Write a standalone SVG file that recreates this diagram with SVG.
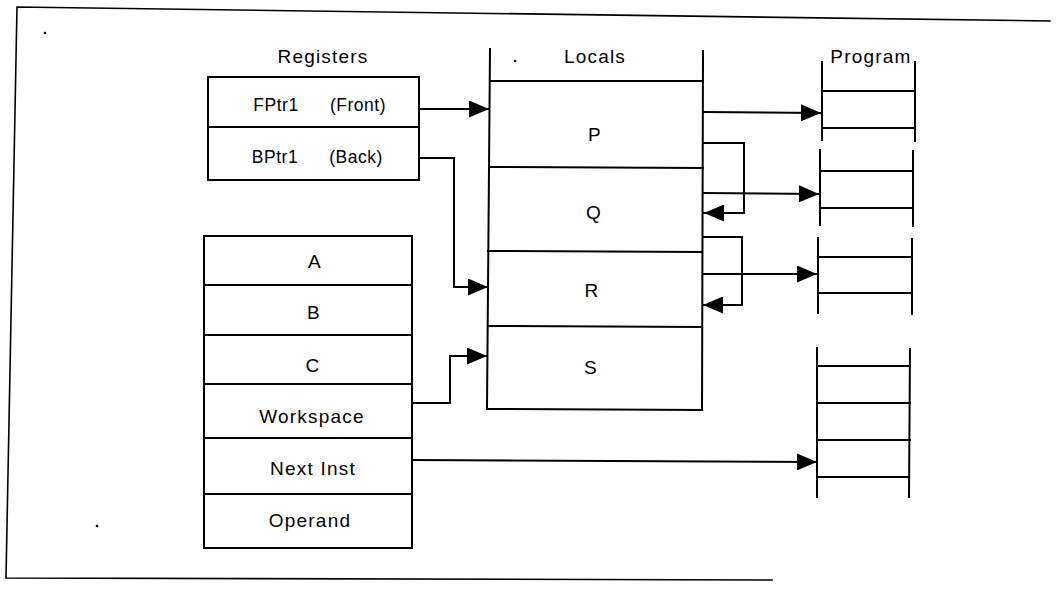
<svg xmlns="http://www.w3.org/2000/svg" width="1057" height="589" viewBox="0 0 1057 589">
<style>
.ln{stroke:#000;stroke-width:2;fill:none;stroke-linecap:square}
.box{stroke:#000;stroke-width:2;fill:#fff}
.t{font-family:"Liberation Sans",Arial,Helvetica,sans-serif;font-size:19px;letter-spacing:1.2px;text-anchor:middle;fill:#000}
.r{font-size:17.5px;letter-spacing:0.5px}
.dot{fill:#000}
</style>
<defs>
<marker id="ah" markerUnits="userSpaceOnUse" markerWidth="20" markerHeight="17" refX="20" refY="8.5" orient="auto">
<path d="M0,0 L20,8.5 L0,17 z" fill="#000"/>
</marker>
</defs>
<rect width="1057" height="589" fill="#fff"/>
<g id="frame">
<polyline class="ln" style="stroke-width:1.6" points="1050,21 17,7 6,578 772,580"/>
<circle class="dot" cx="45" cy="33" r="1.3"/>
<circle class="dot" cx="97" cy="526" r="1.3"/>
</g>
<g id="registers">
<text class="t" x="323" y="63">Registers</text>
<rect class="box" x="208" y="77" width="211" height="103"/>
<line class="ln" x1="208" y1="127" x2="419" y2="127"/>
<text class="t r" x="276" y="111">FPtr1</text>
<text class="t r" x="358" y="111">(Front)</text>
<text class="t r" x="275" y="163">BPtr1</text>
<text class="t r" x="356" y="163">(Back)</text>
</g>
<g id="stack">
<rect class="box" x="204" y="236" width="208" height="312"/>
<line class="ln" x1="204" y1="285" x2="412" y2="285"/>
<line class="ln" x1="204" y1="335" x2="412" y2="335"/>
<line class="ln" x1="204" y1="384" x2="412" y2="384"/>
<line class="ln" x1="204" y1="438" x2="412" y2="438"/>
<line class="ln" x1="204" y1="494" x2="412" y2="494"/>
<text class="t" x="315" y="268">A</text>
<text class="t" x="314" y="319">B</text>
<text class="t" x="313" y="372">C</text>
<text class="t" x="312" y="423">Workspace</text>
<text class="t" x="313" y="475">Next  Inst</text>
<text class="t" x="310" y="527">Operand</text>
</g>
<g id="locals">
<text class="t" x="595" y="63">Locals</text>
<circle class="dot" cx="515" cy="61" r="1.3"/>
<line class="ln" x1="490" y1="49" x2="487" y2="409"/>
<line class="ln" x1="703" y1="51" x2="702" y2="410"/>
<line class="ln" x1="490" y1="81" x2="703" y2="81"/>
<line class="ln" x1="489" y1="167" x2="703" y2="168"/>
<line class="ln" x1="488" y1="251" x2="702" y2="252"/>
<line class="ln" x1="488" y1="326" x2="702" y2="327"/>
<line class="ln" x1="487" y1="409" x2="702" y2="410"/>
<text class="t" x="595" y="141">P</text>
<text class="t" x="594" y="219">Q</text>
<text class="t" x="592" y="297">R</text>
<text class="t" x="591" y="374">S</text>
</g>
<g id="program1">
<text class="t" x="871" y="63">Program</text>
<line class="ln" x1="822" y1="62" x2="822" y2="140"/>
<line class="ln" x1="915" y1="62" x2="915" y2="141"/>
<line class="ln" x1="822" y1="91" x2="915" y2="91"/>
<line class="ln" x1="822" y1="128" x2="915" y2="128"/>
</g>
<g id="program2">
<line class="ln" x1="820" y1="150" x2="820" y2="225"/>
<line class="ln" x1="913" y1="151" x2="913" y2="226"/>
<line class="ln" x1="820" y1="171" x2="913" y2="171"/>
<line class="ln" x1="820" y1="208" x2="913" y2="208"/>
</g>
<g id="program3">
<line class="ln" x1="818" y1="238" x2="818" y2="313"/>
<line class="ln" x1="912" y1="239" x2="912" y2="314"/>
<line class="ln" x1="818" y1="257" x2="912" y2="257"/>
<line class="ln" x1="818" y1="293" x2="912" y2="293"/>
</g>
<g id="program4">
<line class="ln" x1="817" y1="348" x2="817" y2="497"/>
<line class="ln" x1="910" y1="349" x2="909" y2="497"/>
<line class="ln" x1="817" y1="366" x2="910" y2="366"/>
<line class="ln" x1="817" y1="403" x2="910" y2="403"/>
<line class="ln" x1="817" y1="440" x2="910" y2="440"/>
<line class="ln" x1="817" y1="477" x2="909" y2="477"/>
</g>
<g id="connectors">
<polyline class="ln" marker-end="url(#ah)" points="420,109 489,109"/>
<polyline class="ln" marker-end="url(#ah)" points="420,158 454,158 454,287 488,287"/>
<polyline class="ln" marker-end="url(#ah)" points="412,403 450,403 450,356 487,356"/>
<polyline class="ln" marker-end="url(#ah)" points="412,460 817,462"/>
<polyline class="ln" marker-end="url(#ah)" points="704,112 821,113"/>
<polyline class="ln" marker-end="url(#ah)" points="704,143 744,143 744,213 704,213"/>
<polyline class="ln" marker-end="url(#ah)" points="704,193 819,194"/>
<polyline class="ln" marker-end="url(#ah)" points="703,237 742,237 742,305 703,305"/>
<polyline class="ln" marker-end="url(#ah)" points="703,274 817,274"/>
</g>
</svg>
